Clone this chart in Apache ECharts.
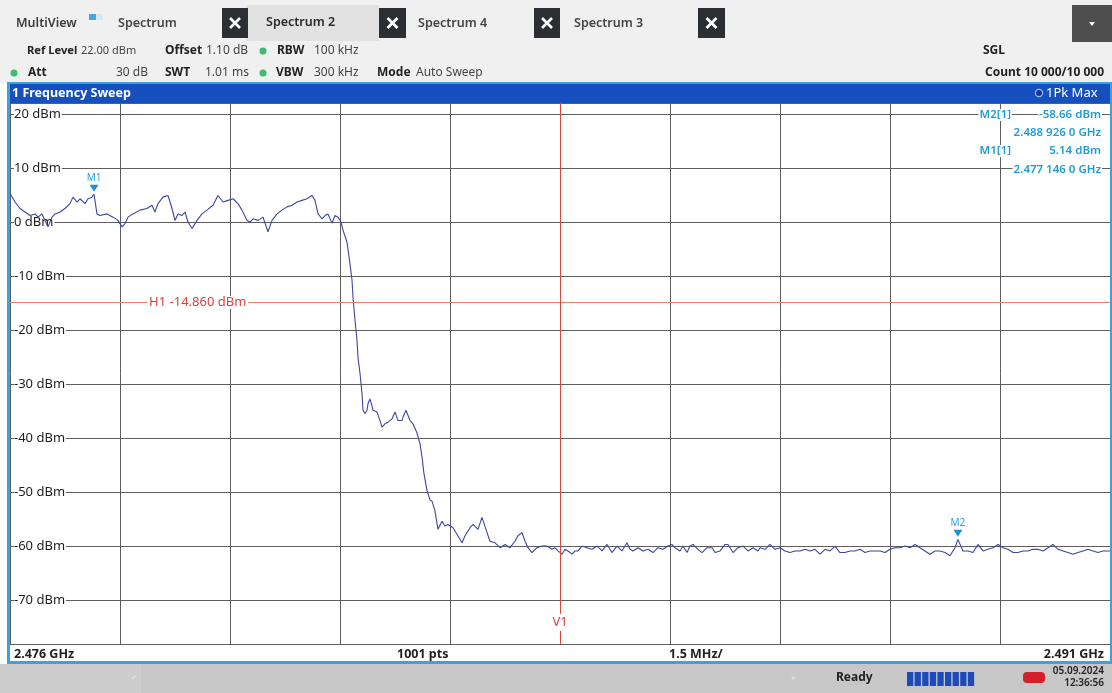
<!DOCTYPE html>
<html><head><meta charset="utf-8">
<script src="https://cdn.jsdelivr.net/npm/echarts@6/dist/echarts.min.js"></script>
<style>html,body{margin:0;padding:0;background:#fff;overflow:hidden}#c{width:1112px;height:693px;}</style>
</head><body><div id="c"></div>
<script>
// ---- sweep settings ----
const startMHz = 2476;
const stopMHz = 2491;
const divMHz = 1.5;
const refLevelDbm = 22;
const bottomLevelDbm = -78;
const sweepPoints = 1001;

// ---- trace (offset from start, MHz) / level (dBm) ----
const freqOffsetMHz = [
0,0.068,0.136,0.205,0.273,0.341,0.382,0.436,0.477,0.518,0.573,0.614,0.682,0.750,0.818,0.859,0.914,0.955,1.023,1.064,
1.118,1.146,1.186,1.227,1.323,1.405,1.473,1.527,1.568,1.609,1.677,1.773,1.868,1.936,1.977,2.018,2.086,2.155,2.209,2.250,
2.291,2.345,2.386,2.427,2.482,2.550,2.618,2.686,2.768,2.836,2.905,2.973,3.041,3.109,3.164,3.232,3.273,3.314,3.382,3.450,
3.518,3.573,3.641,3.709,3.777,3.845,3.914,3.982,4.050,4.118,4.159,4.200,4.255,4.295,4.336,4.391,4.432,4.473,4.514,4.541,
4.595,4.636,4.664,4.677,4.705,4.732,4.745,4.773,4.800,4.814,4.841,4.868,4.882,4.909,4.936,4.950,5.005,5.018,5.045,5.073,
5.114,5.155,5.209,5.250,5.277,5.291,5.345,5.359,5.400,5.427,5.455,5.495,5.550,5.591,5.618,5.645,5.686,5.727,5.755,5.795,
5.836,5.891,5.932,5.973,6.041,6.095,6.164,6.205,6.273,6.314,6.382,6.436,6.450,6.505,6.545,6.614,6.682,6.750,6.818,6.886,
6.927,6.982,7.023,7.064,7.118,7.186,7.255,7.323,7.391,7.432,7.473,7.527,7.568,7.609,7.664,7.705,7.745,7.800,7.868,7.936,
8.005,8.073,8.141,8.209,8.277,8.345,8.414,8.455,8.495,8.564,8.632,8.700,8.768,8.836,8.905,8.973,9.027,9.068,9.136,9.177,
9.232,9.273,9.314,9.382,9.436,9.505,9.573,9.614,9.682,9.750,9.791,9.859,9.927,9.995,10.064,10.132,10.200,10.227,10.295,10.364,
10.432,10.500,10.568,10.636,10.705,10.773,10.841,10.909,10.977,11.045,11.114,11.182,11.250,11.318,11.386,11.455,11.523,11.591,11.659,11.727,
11.795,11.864,11.932,12.000,12.068,12.136,12.205,12.273,12.341,12.409,12.477,12.545,12.614,12.682,12.750,12.818,12.886,12.926,12.995,13.064,
13.132,13.200,13.268,13.336,13.405,13.473,13.541,13.609,13.677,13.745,13.814,13.882,13.950,14.018,14.086,14.155,14.223,14.291,14.359,14.427,
14.495,14.564,14.632,14.700,14.768,14.836,14.905,15.000
];
const levelDbm = [
5.3,3.7,2.5,1.85,1.2,1.5,0.9,1.5,0.3,-0.9,0.9,1.5,1.85,2.5,3.4,4.6,3.7,4.3,3.4,4.3,
4.6,5.14,1.5,1.2,1.5,0.9,0.3,-0.9,-0.3,0.9,1.5,2.2,2.5,3.1,1.85,3.4,4.6,4.9,2.5,0.3,
1.5,1.2,1.85,0,-1.2,0.3,1.5,2.2,3.1,4.9,3.7,4.0,4.3,3.4,2.2,0.3,0,0.6,0.3,0.9,
-1.8,0.3,1.5,2.2,2.8,3.1,3.7,4.0,4.3,4.9,4.0,1.5,0.6,1.2,1.5,-0.2,1.2,0.9,0,-1.5,
-3.7,-7.7,-10.8,-13.9,-18.2,-21.9,-25,-28,-31.7,-34.8,-35.4,-34.8,-33.6,-32.7,-34,-34.8,-35.1,-35.4,-36.7,-37.9,
-37.3,-37,-36.4,-35.1,-35.4,-36.7,-36.7,-36.1,-34.8,-35.1,-36.7,-37.3,-39,-41,-43.4,-46.5,-49.6,-51.4,-51.6,-53.4,
-56.8,-55.3,-56.2,-55.9,-56.5,-57.7,-59.3,-58,-56.5,-55.9,-56.8,-54.6,-54.3,-57.4,-59,-59.3,-60.2,-59.6,-60.2,-59,
-58,-57.4,-59,-60.2,-61.1,-60.2,-59.9,-59.9,-60.5,-60.2,-60.8,-61.4,-60.5,-60.8,-61.4,-60.8,-60.8,-59.9,-60.2,-60.5,
-59.9,-60.8,-59.6,-61.1,-59.9,-60.8,-59.3,-60.5,-60.8,-60.2,-60.8,-60.5,-61.1,-60.2,-60.5,-59.9,-59.6,-60.2,-60.8,-59.9,
-61.1,-59.9,-59.6,-60.5,-61.1,-60.2,-60.2,-61.1,-60.8,-59.6,-59.6,-61.1,-60.2,-59.9,-60.8,-60.2,-60.8,-60.2,-60.5,-59.6,
-60.5,-60.2,-60.8,-61.1,-60.8,-60.8,-60.5,-60.8,-60.5,-61.4,-60.5,-60.8,-59.9,-61.1,-61.1,-60.8,-60.8,-60.5,-61.1,-60.8,
-60.8,-60.8,-61.1,-60.5,-60.2,-60.2,-59.9,-60.2,-59.6,-60.2,-60.8,-61.4,-60.8,-60.8,-61.1,-61.7,-60.2,-58.66,-60.8,-60.8,
-61.1,-59.6,-60.8,-60.5,-60.2,-59.6,-60.2,-60.5,-61.1,-61.1,-60.8,-60.8,-60.5,-60.5,-60.8,-60.2,-59.6,-60.5,-60.8,-61.1,
-61.4,-61.1,-60.8,-60.5,-60.8,-61.1,-60.8,-60.8
];

// ---- markers / lines ----
const markerNames = ['M1', 'M2'];
const markerOffsetMHz = [1.146, 12.926];
const markerLevelDbm = [5.14, -58.66];
const h1LevelDbm = -14.86;
const v1OffsetMHz = 7.5;

// ---- header text ----
const tabNames = ['Spectrum', 'Spectrum 2', 'Spectrum 4', 'Spectrum 3'];

const FONT = '"Noto Sans", "Open Sans", sans-serif';
const traceData = freqOffsetMHz.map((f, i) => [f, levelDbm[i]]);

function fmtGHz(offMHz) {
  const s = ((startMHz + offMHz) / 1000).toFixed(7);
  return s.slice(0, 5) + ' ' + s.slice(5, 8) + ' ' + s.slice(8) + ' GHz';
}
function T(x, y, text, o) {
  o = o || {};
  return {
    type: 'text', x: x, y: y, z: o.z || 50,
    style: {
      text: text, fill: o.fill || '#333',
      font: (o.weight || 'normal') + ' ' + (o.size || 12) + 'px ' + FONT,
      align: o.align || 'left', verticalAlign: 'middle',
      backgroundColor: o.bg, padding: o.pad
    }
  };
}
function R(x, y, w, h, fill, z) {
  return { type: 'rect', z: z || 40, shape: { x: x, y: y, width: w, height: h }, style: { fill: fill } };
}
function X(x, y, w, h) {
  const cx = x + w / 2, cy = y + h / 2, d = 5;
  return [R(x, y, w, h, '#2b2f34'),
    { type: 'line', z: 41, shape: { x1: cx - d, y1: cy - d, x2: cx + d, y2: cy + d }, style: { stroke: '#fff', lineWidth: 2.6 } },
    { type: 'line', z: 41, shape: { x1: cx - d, y1: cy + d, x2: cx + d, y2: cy - d }, style: { stroke: '#fff', lineWidth: 2.6 } }];
}
function dot(x, y) {
  return { type: 'circle', z: 41, shape: { cx: x, cy: y, r: 3.5 }, style: { fill: '#3dbb72' } };
}

const graphics = [];
// header background
graphics.push(R(0, 0, 1112, 83, '#f0f0f0', 1));
graphics.push(R(246, 5, 133, 36, '#e2e2e2', 2));
graphics.push(...X(222, 8, 26, 30), ...X(379, 8, 27, 30), ...X(534, 8, 26, 30), ...X(698, 8, 27, 30));
graphics.push(R(1072, 5, 40, 37, '#4e4e4e'));
graphics.push({ type: 'polygon', z: 41, shape: { points: [[1089, 22], [1095, 22], [1092, 26]] }, style: { fill: '#fff' } });
graphics.push(R(89, 14, 7, 6, '#45a6e2'), R(96, 14, 7, 6, '#dde5ee'));
graphics.push(T(16, 23, 'MultiView', { weight: 600, size: 12.5, fill: '#3c3c3c' }));
graphics.push(T(118, 23, tabNames[0], { weight: 600, size: 12.5, fill: '#444' }));
graphics.push(T(266, 22, tabNames[1], { weight: 600, size: 12.5, fill: '#2a2a2a' }));
graphics.push(T(418, 23, tabNames[2], { weight: 600, size: 12.5, fill: '#444' }));
graphics.push(T(574, 23, tabNames[3], { weight: 600, size: 12.5, fill: '#444' }));
// settings rows
const B = { weight: 'bold', size: 12, fill: '#222' };
const N = { size: 12, fill: '#444' };
graphics.push(T(27, 51, 'Ref Level', { weight: 'bold', size: 11.2, fill: '#222' }), T(81, 51, '22.00 dBm', { size: 11, fill: '#444' }),
  T(165, 51, 'Offset', B), T(206, 51, '1.10 dB', N),
  dot(263, 51), T(277, 51, 'RBW', B), T(314, 51, '100 kHz', N), T(983, 51, 'SGL', B));
graphics.push(dot(14, 73), T(28, 73, 'Att', B), T(116, 73, '30 dB', N), T(165, 73, 'SWT', B), T(205, 73, '1.01 ms', N),
  dot(263, 73), T(276, 73, 'VBW', B), T(314, 73, '300 kHz', N), T(377, 73, 'Mode', B), T(416, 73, 'Auto Sweep', N),
  T(1104, 73, 'Count 10 000/10 000', Object.assign({}, B, { align: 'right' })));
// title bar
graphics.push(R(7, 82, 1105, 2, '#3aa2de', 3));
graphics.push(R(7, 84, 1105, 19, '#1650bf', 3));
graphics.push(T(12, 93, '1 Frequency Sweep', { weight: 'bold', size: 12.5, fill: '#fff' }));
graphics.push({ type: 'circle', z: 42, shape: { cx: 1039, cy: 93, r: 3.6 }, style: { fill: '#1b2f9a', stroke: '#8fc3ff', lineWidth: 1.2 } });
graphics.push(T(1046, 93, '1Pk Max', { size: 13, fill: '#fff' }));
// panel borders
graphics.push(R(7, 84, 3, 580, '#3aa2de', 3), R(7, 661, 1105, 3, '#3aa2de', 3), R(1110, 84, 2, 580, '#3aa2de', 3));
// bottom axis info row
const BB = { weight: 'bold', size: 12.5, fill: '#222' };
graphics.push(T(14, 654, (startMHz / 1000).toFixed(3) + ' GHz', BB), T(397, 654, sweepPoints + ' pts', BB),
  T(669, 654, divMHz + ' MHz/', BB), T(1104, 654, (stopMHz / 1000).toFixed(3) + ' GHz', Object.assign({}, BB, { align: 'right' })));
// status bar
graphics.push(R(0, 664, 1112, 29, '#c7c7c7', 2), R(0, 664, 141, 29, '#cdcdcd', 3));
graphics.push(T(131, 678, '✓', { size: 8, fill: '#e6e6e6' }), T(791, 678, '▾', { size: 9, fill: '#dadada' }));
graphics.push(T(836, 678, 'Ready', { weight: 'bold', size: 12, fill: '#222' }));
for (let i = 0; i < 9; i++) graphics.push(R(907 + i * 7.6, 672, 6.3, 14, '#1f4bb8'));
graphics.push({ type: 'rect', z: 41, shape: { x: 1023, y: 672, width: 22, height: 11, r: 4 }, style: { fill: '#d3202b' } });
graphics.push(T(1104, 671, '05.09.2024', { weight: 600, size: 10, fill: '#222', align: 'right' }),
  T(1104, 683, '12:36:56', { weight: 600, size: 10, fill: '#222', align: 'right' }));
// marker table
const MC = '#1e9bd7';
const MT = { weight: 600, size: 11.5, fill: MC, bg: '#fff', pad: [0, 1], z: 60 };
const MTR = Object.assign({}, MT, { align: 'right' });
graphics.push(T(1012, 115, markerNames[1] + '[1]', MTR), T(1102, 115, markerLevelDbm[1].toFixed(2) + ' dBm', MTR),
  T(1102, 133, fmtGHz(markerOffsetMHz[1]), MTR),
  T(1012, 151, markerNames[0] + '[1]', MTR), T(1102, 151, markerLevelDbm[0].toFixed(2) + ' dBm', MTR),
  T(1102, 170, fmtGHz(markerOffsetMHz[0]), MTR));

const chart = echarts.init(document.getElementById('c'), null, { renderer: 'canvas' });
chart.setOption({
  animation: false,
  backgroundColor: '#ffffff',
  textStyle: { fontFamily: FONT },
  grid: { left: 10, right: 2, top: 103, bottom: 49, containLabel: false },
  xAxis: {
    type: 'value', min: 0, max: stopMHz - startMHz, interval: divMHz,
    axisLine: { show: false }, axisTick: { show: false }, axisLabel: { show: false },
    splitLine: { show: true, lineStyle: { color: '#5e5e5e', width: 1 } }
  },
  yAxis: {
    type: 'value', min: bottomLevelDbm, max: refLevelDbm, splitNumber: 10, minInterval: 10, maxInterval: 10,
    axisLine: { show: false }, axisTick: { show: false },
    axisLabel: {
      inside: true, margin: 4, fontSize: 13, color: '#1e1e1e', fontFamily: FONT,
      backgroundColor: '#fff', padding: [0, 1, 0, 0],
      formatter: v => (Math.abs(v % 10) < 1e-9 ? v + ' dBm' : '')
    },
    splitLine: { show: true, lineStyle: { color: '#5e5e5e', width: 1 } }
  },
  graphic: graphics,
  series: [{
    type: 'line', data: traceData, showSymbol: false, symbol: 'none',
    lineStyle: { color: '#3b479e', width: 1.1 },
    markLine: {
      silent: true, symbol: ['none', 'none'], label: { show: false },
      data: [
        { yAxis: h1LevelDbm, lineStyle: { color: '#e8806c', width: 1, type: 'solid' } },
        { xAxis: v1OffsetMHz, lineStyle: { color: '#d9463a', width: 1, type: 'solid' } }
      ]
    },
    markPoint: {
      silent: true,
      data: [
        { coord: [markerOffsetMHz[0], markerLevelDbm[0]], symbol: 'triangle', symbolRotate: 180, symbolSize: [9, 7], symbolOffset: [0, -6],
          itemStyle: { color: '#1e93d3' }, label: { show: true, formatter: markerNames[0], position: 'top', distance: 2, color: '#2aa3dc', fontSize: 10 } },
        { coord: [markerOffsetMHz[1], markerLevelDbm[1]], symbol: 'triangle', symbolRotate: 180, symbolSize: [9, 7], symbolOffset: [0, -6],
          itemStyle: { color: '#1e93d3' }, label: { show: true, formatter: markerNames[1], position: 'top', distance: 2, color: '#2aa3dc', fontSize: 10 } },
        { coord: [2.56, h1LevelDbm], symbol: 'circle', symbolSize: 0.1, itemStyle: { color: 'rgba(0,0,0,0)' },
          label: { show: true, position: 'inside', formatter: 'H1 ' + h1LevelDbm.toFixed(3) + ' dBm', color: '#d8433a', fontSize: 13, backgroundColor: '#fff', padding: [0, 2] } },
        { coord: [v1OffsetMHz, -74], symbol: 'circle', symbolSize: 0.1, itemStyle: { color: 'rgba(0,0,0,0)' },
          label: { show: true, position: 'inside', formatter: 'V1', color: '#d8433a', fontSize: 13, backgroundColor: '#fff', padding: [2, 1] } }
      ]
    }
  }]
});
</script></body></html>
